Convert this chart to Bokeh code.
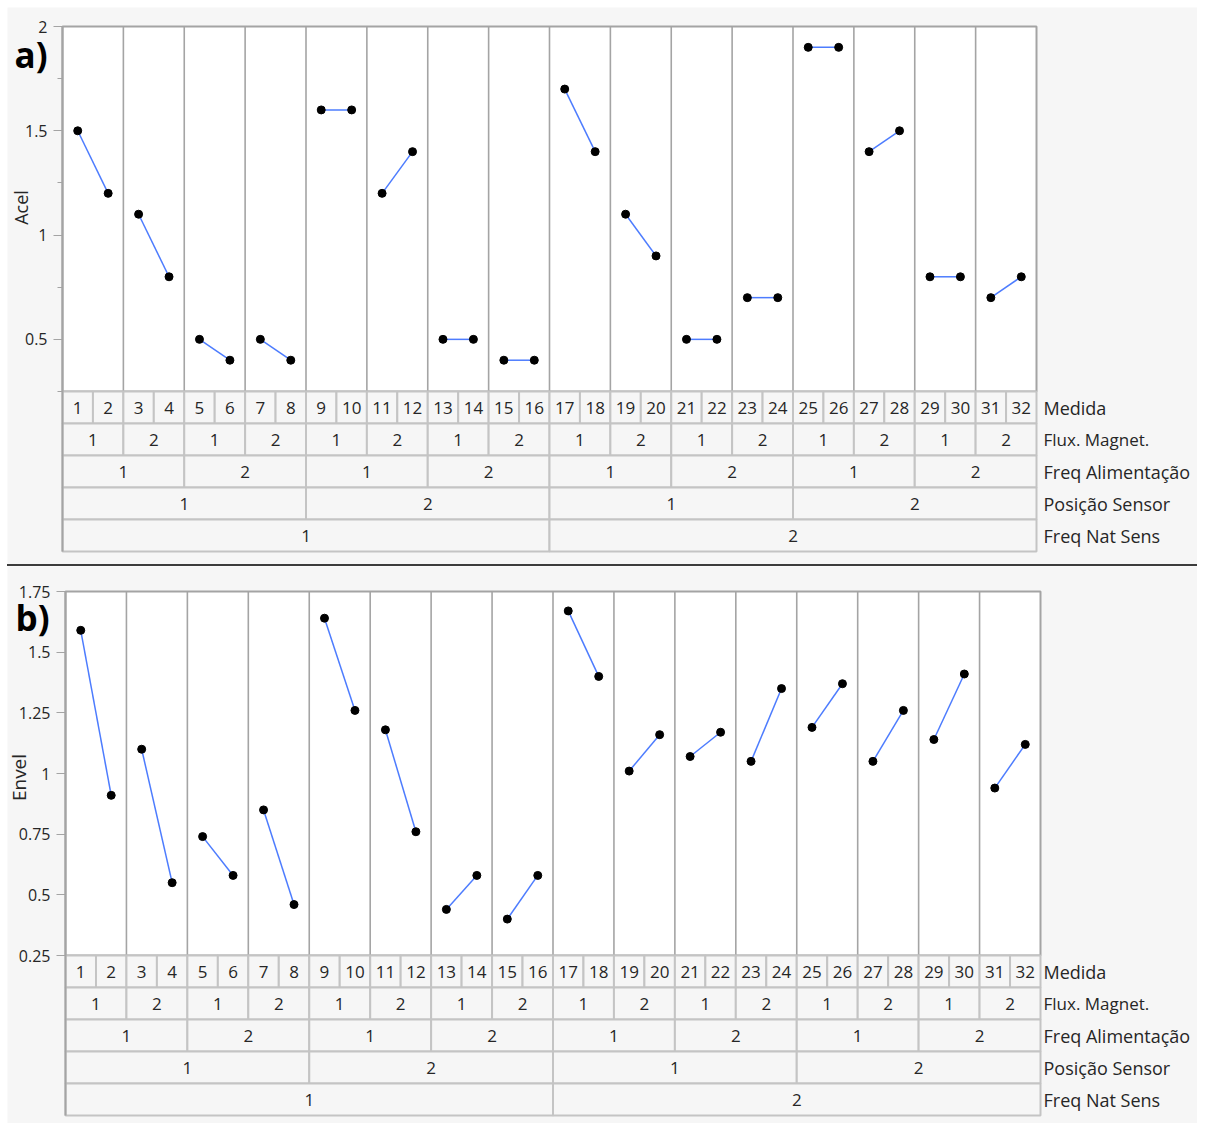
import math

from bokeh.core.properties import value
from bokeh.embed import file_html
from bokeh.layouts import column
from bokeh.models import Div, FixedTicker, Range1d
from bokeh.plotting import figure
from bokeh.resources import INLINE

# ---- data -------------------------------------------------------------
MEDIDA = [str(i) for i in range(1, 33)]
FLUX_MAGNET = ["1", "2", "1", "2", "1", "2", "1", "2",
               "1", "2", "1", "2", "1", "2", "1", "2"]
FREQ_ALIM = ["1", "2", "1", "2", "1", "2", "1", "2"]
POSICAO_SENSOR = ["1", "2", "1", "2"]
FREQ_NAT_SENS = ["1", "2"]
ROW_NAMES = ["Medida", "Flux. Magnet.", "Freq Alimentação",
             "Posição Sensor", "Freq Nat Sens"]

ACEL = [1.5, 1.2, 1.1, 0.8, 0.5, 0.4, 0.5, 0.4,
        1.6, 1.6, 1.2, 1.4, 0.5, 0.5, 0.4, 0.4,
        1.7, 1.4, 1.1, 0.9, 0.5, 0.5, 0.7, 0.7,
        1.9, 1.9, 1.4, 1.5, 0.8, 0.8, 0.7, 0.8]
ENVEL = [1.59, 0.91, 1.10, 0.55, 0.74, 0.58, 0.85, 0.46,
         1.64, 1.26, 1.18, 0.76, 0.44, 0.58, 0.40, 0.58,
         1.67, 1.40, 1.01, 1.16, 1.07, 1.17, 1.05, 1.35,
         1.19, 1.37, 1.05, 1.26, 1.14, 1.41, 0.94, 1.12]

ACEL_TICKS = [0.5, 1, 1.5, 2]
ACEL_MINOR_TICKS = [0.25, 0.75, 1.25, 1.75]
ENVEL_TICKS = [0.25, 0.5, 0.75, 1, 1.25, 1.5, 1.75]
ENVEL_MINOR_TICKS = []

# ---- styling ----------------------------------------------------------
FONT = "Open Sans"
BG = "#f6f6f6"
FRAME_GRAY = "#a4a4a4"
CELL_GRAY = "#c4c4c4"
LINE_BLUE = "#4d7cfe"
TEXT = "#262626"

FIG_W = 1190
FIG_H = 557
PAGE_X0 = 7
ROW_PX = 32


def make_panel(vals, y_lo, y_hi, ticks, minor_ticks, y_name, name_size, tag,
               page_y0, frame_left, plot_right, data_top, data_bottom,
               name_pos, tag_pos, margin):
    n = len(vals)
    ppc = (plot_right - frame_left) / n             # pixels per column
    ppu = (data_bottom - data_top) / (y_hi - y_lo)  # pixels per y unit

    def X(px):
        return (px - frame_left) / ppc

    def Y(py):
        return y_hi - (py - data_top) / ppu

    row_h = ROW_PX / ppu
    table_bottom = y_lo - 5 * row_h

    p = figure(width=FIG_W, height=FIG_H,
               x_range=Range1d(X(PAGE_X0), X(PAGE_X0 + FIG_W)),
               y_range=Range1d(Y(page_y0 + FIG_H), Y(page_y0)),
               x_axis_location=None, y_axis_location="left",
               output_backend="svg", toolbar_location=None,
               min_border_left=0, min_border_top=0,
               min_border_right=0, min_border_bottom=0,
               background_fill_color=BG, border_fill_color=BG,
               outline_line_color=None, margin=margin)
    p.grid.visible = False

    # plotting area
    p.quad(left=0, right=n, bottom=y_lo, top=y_hi, fill_color="white",
           line_color=FRAME_GRAY, line_width=2)
    seps = list(range(2, n, 2))
    p.segment(x0=seps, y0=[y_lo] * len(seps), x1=seps, y1=[y_hi] * len(seps),
              line_color=FRAME_GRAY, line_width=1.6)

    # pairs of measurements joined by a line
    xs = [[k + 0.5, k + 1.5] for k in range(0, n, 2)]
    ys = [[vals[k], vals[k + 1]] for k in range(0, n, 2)]
    p.multi_line(xs=xs, ys=ys, line_color=LINE_BLUE, line_width=1.5)
    p.scatter(x=[k + 0.5 for k in range(n)], y=vals, size=8,
              fill_color="black", line_color="black")

    # nested factor table below the plot
    rows = [MEDIDA, FLUX_MAGNET, FREQ_ALIM, POSICAO_SENSOR, FREQ_NAT_SENS]
    for r, labels in enumerate(rows):
        span = n / len(labels)
        top = y_lo - r * row_h
        bot = y_lo - (r + 1) * row_h
        lefts = [i * span for i in range(len(labels))]
        rights = [(i + 1) * span for i in range(len(labels))]
        p.quad(left=lefts, right=rights, top=[top] * len(labels),
               bottom=[bot] * len(labels), fill_color=BG,
               line_color=CELL_GRAY, line_width=2)
        p.text(x=[(a + b) / 2 for a, b in zip(lefts, rights)],
               y=[(top + bot) / 2] * len(labels), text=labels,
               text_font=value(FONT), text_font_size="17px",
               text_color=TEXT, text_align="center", text_baseline="middle")
        p.text(x=[X(1043)], y=[(top + bot) / 2], text=[ROW_NAMES[r]],
               text_font=value(FONT),
               text_font_size="17px" if r == 1 else "18px",
               text_color=TEXT, text_align="left", text_baseline="middle")

    # y axis, pinned to the left edge of the plotting area
    ax = p.yaxis[0]
    ax.fixed_location = 0
    ax.ticker = FixedTicker(ticks=ticks, minor_ticks=minor_ticks)
    ax.major_label_overrides = {t: f"{t:g}" for t in ticks}
    ax.bounds = (table_bottom, y_hi)
    ax.axis_line_color = FRAME_GRAY
    ax.axis_line_width = 2
    ax.major_tick_line_color = FRAME_GRAY
    ax.minor_tick_line_color = FRAME_GRAY
    ax.major_tick_in = 0
    ax.major_tick_out = 9
    ax.minor_tick_in = 0
    ax.minor_tick_out = 5
    ax.major_label_standoff = 6
    ax.major_label_text_font = FONT
    ax.major_label_text_font_size = "16px"
    ax.major_label_text_color = TEXT

    # axis title and panel tag
    p.text(x=[X(name_pos[0])], y=[Y(name_pos[1])], text=[y_name],
           angle=math.pi / 2, text_font=value(FONT), text_font_size=name_size,
           text_color=TEXT, text_align="center", text_baseline="middle")
    p.text(x=[X(tag_pos[0])], y=[Y(tag_pos[1])], text=[tag],
           text_font=value(FONT), text_font_size="35px",
           text_font_style="bold", text_color="black",
           text_align="left", text_baseline="middle")
    return p


pa = make_panel(ACEL, 0.25, 2, ACEL_TICKS, ACEL_MINOR_TICKS, "Acel", "18px", "a)",
                page_y0=7, frame_left=62, plot_right=1036,
                data_top=26, data_bottom=391,
                name_pos=(20, 207), tag_pos=(14, 54), margin=(7, 0, 0, 7))
pb = make_panel(ENVEL, 0.25, 1.75, ENVEL_TICKS, ENVEL_MINOR_TICKS, "Envel", "19px", "b)",
                page_y0=566, frame_left=65, plot_right=1040,
                data_top=591, data_bottom=955,
                name_pos=(18, 777), tag_pos=(15, 617), margin=(0, 0, 0, 7))

sep = Div(text="", width=FIG_W, height=2, margin=(0, 0, 0, 7),
          styles={"background-color": "#3c3c3c"})

layout = column(pa, sep, pb, spacing=0)

open("out.html", "w").write(file_html(layout, INLINE))
